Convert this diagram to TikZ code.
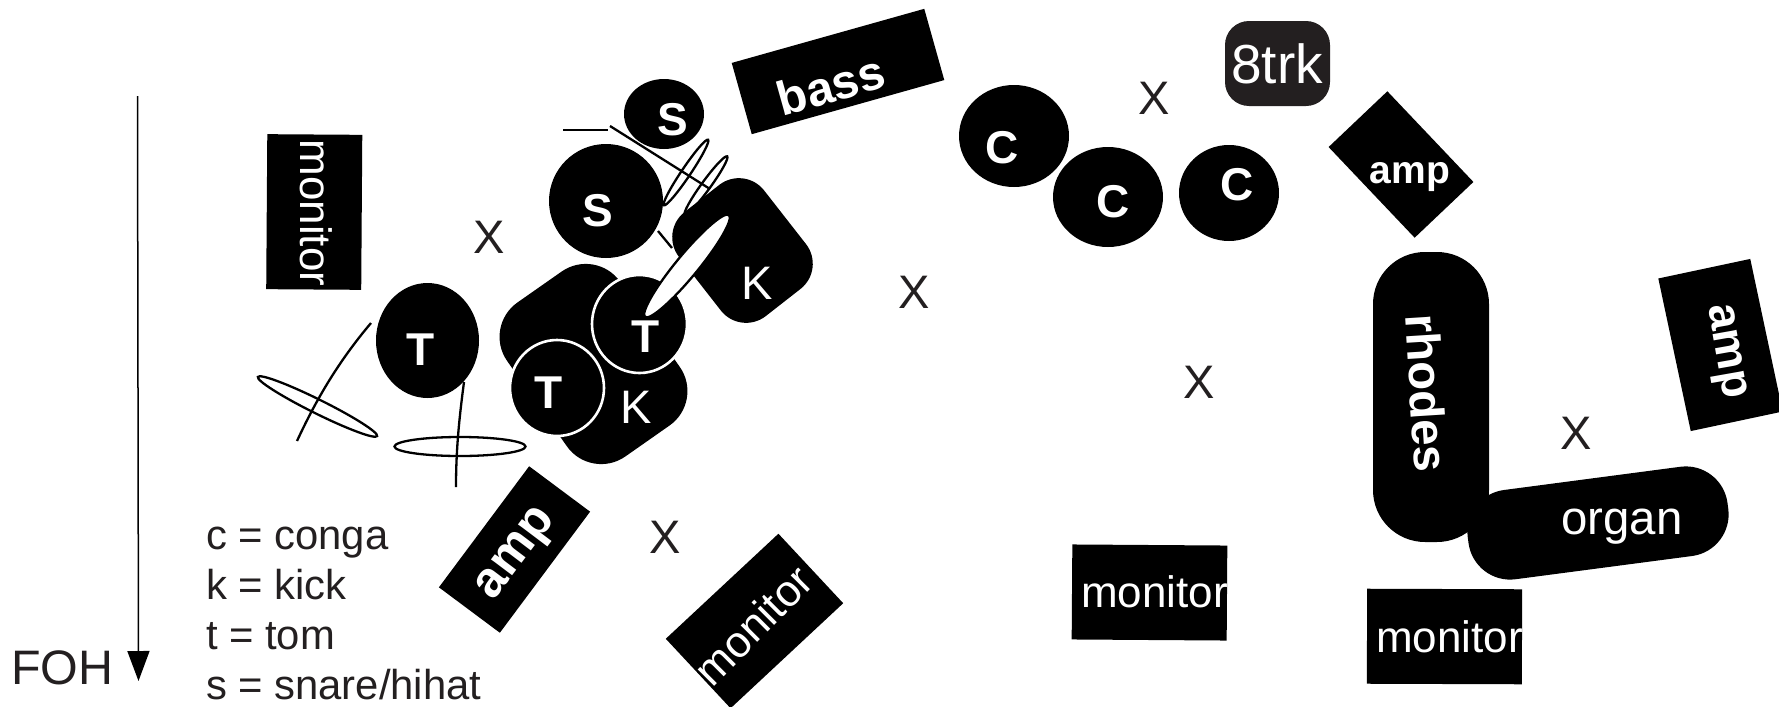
\documentclass[tikz,border=0pt]{standalone}
\usepackage{fontspec}
\setmainfont{Liberation Sans}
\usetikzlibrary{shapes.geometric,arrows.meta}
\definecolor{ink}{HTML}{231F20}
\tikzset{
  blob/.style={ellipse,fill=black,inner sep=0pt,outer sep=0pt},
  sz/.style n args={2}{minimum width=#1*1pt,minimum height=#2*1pt},
  rim/.style={draw=white,line width=1.3pt},
  ring/.style={ellipse,draw=black,line width=1.15pt,inner sep=0pt,outer sep=0pt},
  lbl/.style={inner sep=0pt,outer sep=0pt,text=white,font=\fontsize{22pt}{22pt}\selectfont},
  blbl/.style={inner sep=0pt,outer sep=0pt,text=white,font=\fontsize{23pt}{23pt}\selectfont\bfseries},
  xmark/.style={inner sep=0pt,outer sep=0pt,text=ink,font=\fontsize{23.5pt}{23.5pt}\selectfont},
  legendtxt/.style={inner sep=0pt,outer sep=0pt,text=ink,anchor=base west,font=\fontsize{20.9pt}{20.9pt}\selectfont},
  wire/.style={line width=1.15pt,draw=black}
}
\begin{document}
\begin{tikzpicture}[x=0.5pt,y=-0.5pt]
\useasboundingbox (0,0) rectangle (1779,707);
\clip (0,0) rectangle (1779,707);
\fill[white] (0,0) rectangle (1779,707);

% FOH arrow
\coordinate (arrowtop) at (137.5,96);
\coordinate (arrowend) at (138.5,681);
\draw[line width=0.75pt,-{Triangle[width=11pt,length=15pt]}] (arrowtop) -- (arrowend);
\node[inner sep=0pt,text=ink,anchor=base west,font=\fontsize{24.2pt}{24.2pt}\selectfont] (foh) at (11,684) {FOH};

% legend
\node[legendtxt] (lega) at (206,549) {c = conga};
\node[legendtxt] (legb) at (206,599) {k = kick};
\node[legendtxt] (legc) at (206,649) {t = tom};
\node[legendtxt] (legd) at (206,699) {s = snare/hihat};

% X marks
\node[xmark] (x1) at (489.5,237) {X};
\node[xmark] (x2) at (914.5,292) {X};
\node[xmark] (x3) at (1154.5,98) {X};
\node[xmark] (x4) at (1199.5,382) {X};
\node[xmark] (x5) at (665,537) {X};
\node[xmark] (x6) at (1576.5,433) {X};

% monitors
\node[rectangle,fill=black,inner sep=0pt,outer sep=0pt,sz={47.5}{77.5},rotate=-0.4] (monA) at (314.25,212) {};
\node[lbl,rotate=-90] (monAt) at (316.5,213) {monitor};
\node[rectangle,fill=black,inner sep=0pt,outer sep=0pt,sz={77.5}{47.5},rotate=-0.4] (monB) at (1149.5,592.5) {};
\node[lbl,anchor=base west] (monBt) at (1081,607) {monitor};
\node[rectangle,fill=black,inner sep=0pt,outer sep=0pt,sz={77.5}{47.5},rotate=-0.2] (monC) at (1444.5,636.5) {};
\node[lbl,anchor=base west] (monCt) at (1376,652) {monitor};
\node[rectangle,fill=black,inner sep=0pt,outer sep=0pt,sz={77}{47.5},rotate=43] (monD) at (754.5,621) {};
\node[lbl,rotate=45] (monDt) at (753,625) {monitor};

% bass, 8trk, amps
\node[rectangle,fill=black,inner sep=0pt,outer sep=0pt,sz={100}{37},rotate=15.7] (bass) at (838,71.5) {};
\node[blbl,rotate=15.7,font=\fontsize{24pt}{24pt}\selectfont\bfseries] (basst) at (831,85) {bass};
\node[rectangle,fill=ink,rounded corners=12pt,inner sep=0pt,outer sep=0pt,sz={52.5}{42.5}] (trk) at (1277.5,63.5) {};
\node[lbl,font=\fontsize{27.5pt}{27.5pt}\selectfont] (trkt) at (1277,64) {8trk};
\node[rectangle,fill=black,inner sep=0pt,outer sep=0pt,sz={62.5}{40.5},rotate=-46.5] (ampA) at (1401,164.5) {};
\node[blbl,font=\fontsize{19.5pt}{19.5pt}\selectfont\bfseries] (ampAt) at (1410,177) {amp};
\node[rectangle,fill=black,inner sep=0pt,outer sep=0pt,sz={75.5}{38},rotate=53.3] (ampB) at (514.5,549.5) {};
\node[blbl,rotate=53,font=\fontsize{25pt}{25pt}\selectfont\bfseries] (ampBt) at (518,555) {amp};
\node[rectangle,fill=black,inner sep=0pt,outer sep=0pt,sz={47}{78},rotate=12] (ampC) at (1720.5,345) {};
\node[blbl,rotate=-80] (ampCt) at (1724,352) {amp};

% keyboards
\node[rectangle,fill=black,rounded corners=26pt,inner sep=0pt,outer sep=0pt,sz={58}{145}] (rhodes) at (1431,397) {};
\node[blbl,rotate=-86.4,font=\fontsize{23.7pt}{23.7pt}\selectfont\bfseries] (rhodest) at (1427,393) {rhodes};
\node[rectangle,fill=black,rounded corners=21pt,inner sep=0pt,outer sep=0pt,sz={131}{45},rotate=7.5] (organ) at (1598,523) {};
\node[lbl,font=\fontsize{23.7pt}{23.7pt}\selectfont] (organt) at (1622,527) {organ};

% congas
\node[blob,sz={55}{51}] (c1) at (1014,136) {};
\node[blbl] (c1t) at (1002,148) {C};
\node[blob,sz={55}{50}] (c2) at (1108,197) {};
\node[blbl] (c2t) at (1113,202) {C};
\node[blob,sz={50}{48}] (c3) at (1229,193) {};
\node[blbl] (c3t) at (1237,185) {C};

% drum kit
\coordinate (w1a) at (563,130); \coordinate (w1b) at (608,130);
\draw[wire] (w1a) -- (w1b);
\coordinate (w3a) at (658,231); \coordinate (w3b) at (672,248);
\draw[wire] (w3a) -- (w3b);
\node[ring,sz={36}{4.5},rotate=54] (hatB) at (706,185.5) {};
\node[blob,sz={57}{57}] (snareA) at (606,201) {};
\node[blob,sz={40}{35}] (snareB) at (664,114) {};
\node[blbl] (snareAt) at (598,211) {S};
\node[blbl] (snareBt) at (672.5,120) {S};
\node[ring,sz={39.5}{4.5},rotate=56] (hatA) at (686,172.5) {};
\coordinate (w2a) at (610,126); \coordinate (w2b) at (710,189);
\draw[wire] (w2a) -- (w2b);

\node[rectangle,fill=black,rounded corners=16pt,inner sep=0pt,outer sep=0pt,sz={66}{54},rotate=-52] (kickB) at (742.5,250.5) {};
\node[rectangle,fill=black,rounded corners=21pt,inner sep=0pt,outer sep=0pt,sz={94}{69},rotate=-55] (kickA) at (593.5,364) {};
\node[blob,rim,sz={47.5}{49}] (tomB) at (639.5,324) {};
\node[blob,rim,sz={47}{48}] (tomC) at (557,388) {};
\node[ring,fill=white,sz={66}{11},rotate=50.5] (stick) at (687,266) {};
\node[lbl,font=\fontsize{23.5pt}{23.5pt}\selectfont] (kickBt) at (757,283) {K};
\node[lbl,font=\fontsize{23.5pt}{23.5pt}\selectfont] (kickAt) at (636,407) {K};
\node[blbl] (tomBt) at (645.6,337) {T};
\node[blbl] (tomCt) at (549,393) {T};

\node[blob,sz={51.5}{57.5}] (tomA) at (427.5,340.5) {};
\node[blbl] (tomAt) at (421,350) {T};
\node[ring,sz={66.5}{7},rotate=-26.4] (cymA) at (317.5,406.5) {};
\node[ring,sz={65.5}{9.5}] (cymB) at (460,446.5) {};
\coordinate (w4a) at (371,323); \coordinate (w4b) at (297,441);
\draw[wire] (w4a) .. controls (338,362) and (316,400) .. (w4b);
\coordinate (w5a) at (464,382); \coordinate (w5b) at (456,487);
\draw[wire] (w5a) .. controls (459,420) and (456,450) .. (w5b);
\end{tikzpicture}
\end{document}
